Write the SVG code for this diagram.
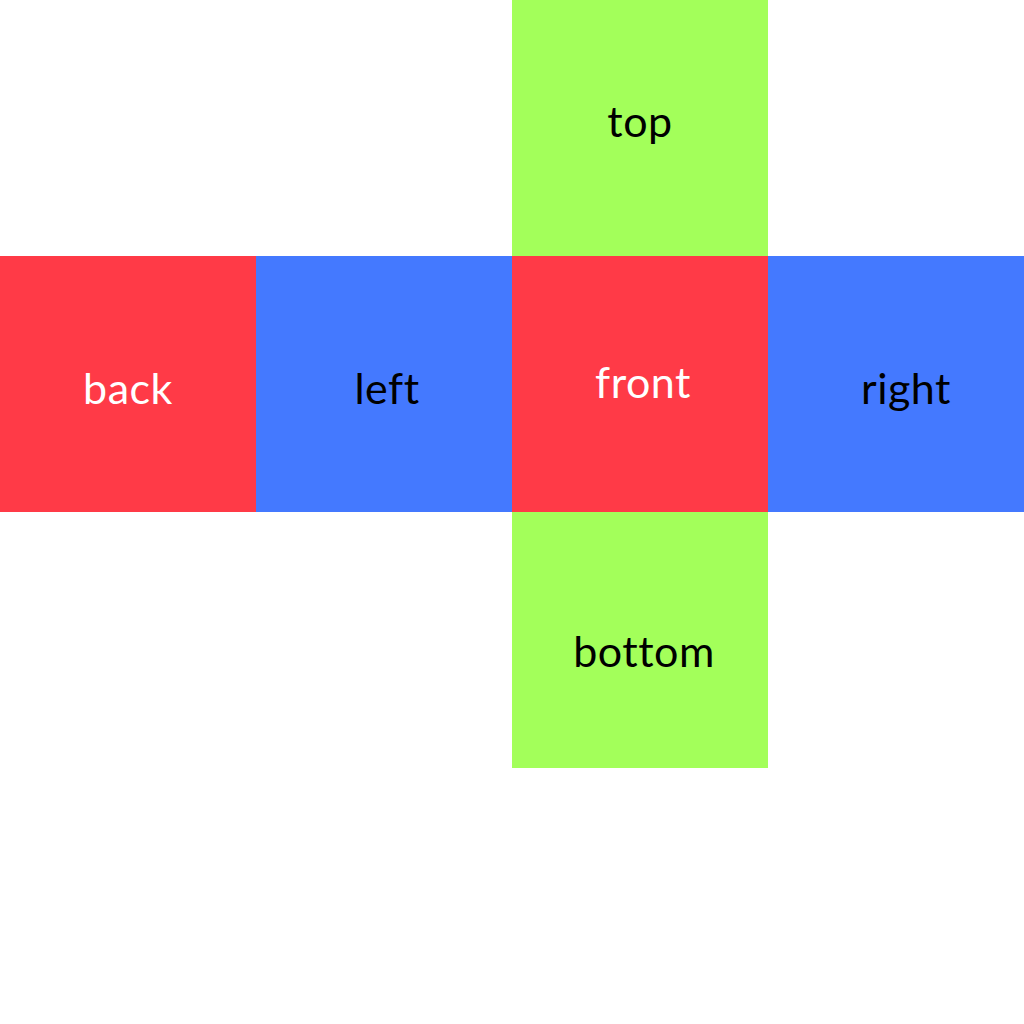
<svg xmlns="http://www.w3.org/2000/svg" width="1024" height="1024" viewBox="0 0 1024 1024">
<style>
.g{fill:#a3ff5a}.r{fill:#ff3a47}.b{fill:#4479ff}
text{font-family:"Lato","Liberation Sans",sans-serif;font-size:43px;letter-spacing:0.5px;text-anchor:middle}
.w{fill:#ffffff}.k{fill:#000000}
</style>
<rect width="1024" height="1024" fill="#ffffff"/>
<g id="top"><rect class="g" x="512" y="0" width="256" height="256"/><text class="k" x="640" y="137">top</text></g>
<g id="back"><rect class="r" x="0" y="256" width="256" height="256"/><text class="w" x="128" y="404">back</text></g>
<g id="left"><rect class="b" x="256" y="256" width="256" height="256"/><text class="k" x="387" y="404">left</text></g>
<g id="front"><rect class="r" x="512" y="256" width="256" height="256"/><text class="w" x="643" y="398">front</text></g>
<g id="right"><rect class="b" x="768" y="256" width="256" height="256"/><text class="k" x="906" y="404">right</text></g>
<g id="bottom"><rect class="g" x="512" y="512" width="256" height="256"/><text class="k" x="644" y="667">bottom</text></g>
<g id="connectors"/>
</svg>
